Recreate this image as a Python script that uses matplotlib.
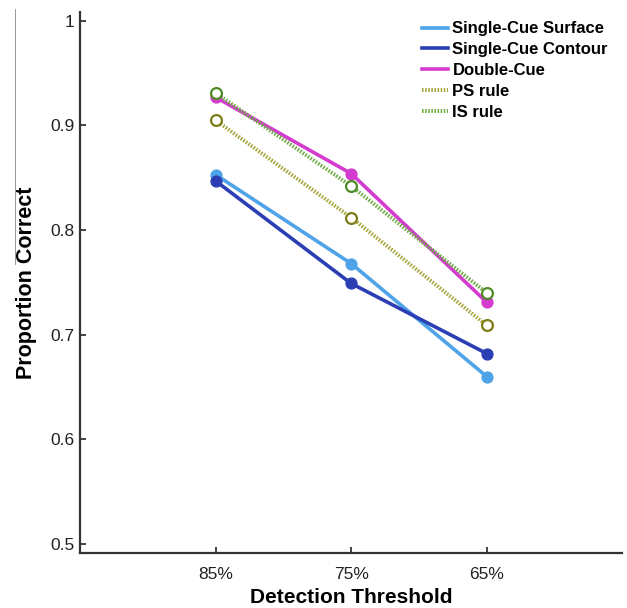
import matplotlib
matplotlib.use("Agg")
import matplotlib.pyplot as plt
from matplotlib.lines import Line2D

plt.rcParams['font.family'] = ['Liberation Sans', 'DejaVu Sans']

thresholds = ["85%", "75%", "65%"]
surface = [0.853, 0.768, 0.660]
contour = [0.847, 0.749, 0.682]
double_cue = [0.927, 0.854, 0.731]
ps_rule = [0.905, 0.812, 0.709]
is_rule = [0.931, 0.842, 0.740]
yticks = [0.5, 0.6, 0.7, 0.8, 0.9, 1.0]
ytick_labels = ["0.5", "0.6", "0.7", "0.8", "0.9", "1"]

fig = plt.figure(figsize=(6.27, 6.08), dpi=100)
ax = fig.add_axes([0.1276, 0.0905, 0.865, 0.889])

x = [1, 2, 3]
ax.plot(x, surface, '-', color='#4fa3e8', lw=2.6, marker='o', ms=7.8,
        mfc='#4fa3e8', mec='#4fa3e8', label='Single-Cue Surface')
ax.plot(x, contour, '-', color='#2b3eb3', lw=2.6, marker='o', ms=7.8,
        mfc='#2b3eb3', mec='#2b3eb3', label='Single-Cue Contour')
ax.plot(x, double_cue, '-', color='#d43ccf', lw=2.6, marker='o', ms=7.8,
        mfc='#d43ccf', mec='#d43ccf', label='Double-Cue')
ax.plot(x, ps_rule, color='#a6a43a', lw=2.8, ls=(0, (0.4, 0.4)), marker='o', ms=7.8,
        mfc='white', mec='#7d7b17', mew=1.6, label='PS rule')
ax.plot(x, is_rule, color='#6cab42', lw=2.8, ls=(0, (0.4, 0.4)), marker='o', ms=7.8,
        mfc='white', mec='#4e8a26', mew=1.6, label='IS rule')

ax.set_xlim(0, 4)
ax.set_ylim(0.4914, 1.008)
ax.set_xticks(x)
ax.set_xticklabels(thresholds, fontsize=12.5)
ax.set_yticks(yticks)
ax.set_yticklabels(ytick_labels, fontsize=12.5)
ax.tick_params(direction='in', length=4, width=1.3, color='#333333', labelcolor='#222222')
ax.tick_params(axis='x', pad=10)
ax.tick_params(axis='y', pad=4)
for s in ['top', 'right']:
    ax.spines[s].set_visible(False)
for s in ['left', 'bottom']:
    ax.spines[s].set_linewidth(1.6)
    ax.spines[s].set_color('#333333')

ax.set_xlabel('Detection Threshold', fontsize=15, fontweight='bold')
ax.xaxis.set_label_coords(0.5, -0.064)
ax.set_ylabel('Proportion Correct', fontsize=15.5, fontweight='bold')
ax.yaxis.set_label_coords(-0.080, 0.5)

handles = [
    Line2D([], [], color='#4fa3e8', lw=2.6),
    Line2D([], [], color='#2b3eb3', lw=2.6),
    Line2D([], [], color='#d43ccf', lw=2.6),
    Line2D([], [], color='#a6a43a', lw=2.8, ls=(0, (0.4, 0.4))),
    Line2D([], [], color='#6cab42', lw=2.8, ls=(0, (0.4, 0.4))),
]
labels = ['Single-Cue Surface', 'Single-Cue Contour', 'Double-Cue', 'PS rule', 'IS rule']
leg = ax.legend(handles, labels, loc='upper right', bbox_to_anchor=(0.995, 1.005),
                frameon=False, prop={'weight': 'bold', 'size': 12},
                handlelength=1.6, handletextpad=0.25, labelspacing=0.35,
                borderaxespad=0.3)

# thin stray line at top left of the original figure
fig.add_artist(Line2D([0.024, 0.024], [0.985, 0.565], transform=fig.transFigure,
                      color='#888888', lw=0.6))

fig.savefig('out.png', dpi=100)
